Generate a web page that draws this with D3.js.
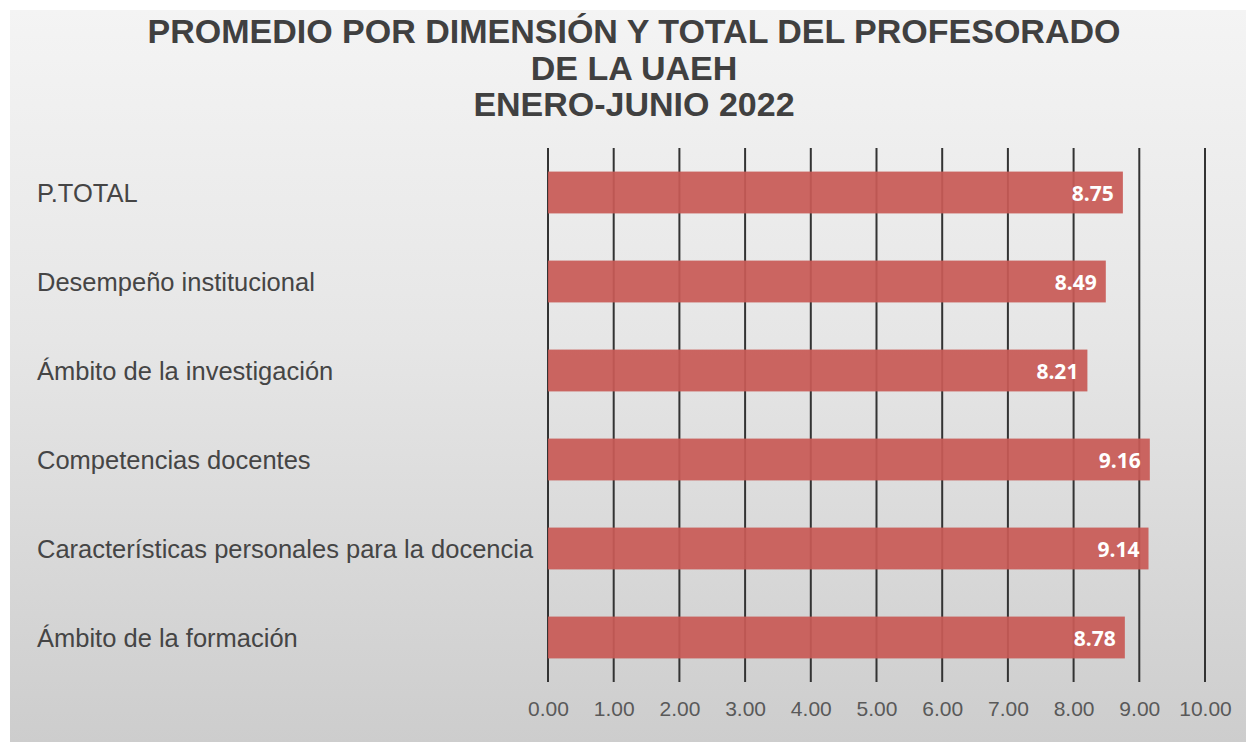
<!DOCTYPE html>
<html>
<head>
<meta charset="utf-8">
<script src="https://cdn.jsdelivr.net/npm/d3@7"></script>
<style>
  body { margin: 0; background: #fff; }
</style>
</head>
<body>
<div id="chart"></div>
<script>
'use strict'

// chart data
const categories = [
  'P.TOTAL',
  'Desempeño institucional',
  'Ámbito de la investigación',
  'Competencias docentes',
  'Características personales para la docencia',
  'Ámbito de la formación'
]
const values = [8.75, 8.49, 8.21, 9.16, 9.14, 8.78]
const tickValues = [0, 1, 2, 3, 4, 5, 6, 7, 8, 9, 10]
const titleLines = [
  'PROMEDIO POR DIMENSIÓN Y TOTAL DEL PROFESORADO',
  'DE LA UAEH',
  'ENERO-JUNIO 2022'
]

const width = 1246,
  height = 742

let svg = d3.select('#chart')
  .append('svg')
  .attr('width', width)
  .attr('height', height)

// background gradient
let grad = svg.append('defs').append('linearGradient')
  .attr('id', 'bg')
  .attr('x1', 0).attr('y1', 0).attr('x2', 0).attr('y2', 1)
grad.append('stop').attr('offset', '0%').attr('stop-color', '#f4f4f4')
grad.append('stop').attr('offset', '45%').attr('stop-color', '#e6e6e6')
grad.append('stop').attr('offset', '100%').attr('stop-color', '#cdcdcd')

svg.append('rect')
  .attr('x', 10).attr('y', 10)
  .attr('width', width - 10).attr('height', height - 10)
  .attr('fill', 'url(#bg)')

// title
svg.append('g')
  .selectAll('text')
  .data(titleLines)
  .enter()
  .append('text')
  .attr('x', 634)
  .attr('y', (d, i) => 43 + i * 36.5)
  .attr('text-anchor', 'middle')
  .style('font-family', 'Liberation Sans, Arial, sans-serif')
  .style('font-weight', 'bold')
  .style('font-size', '34px')
  .style('fill', '#404040')
  .text(d => d)

// scales
const xScale = d3.scaleLinear()
  .domain([0, 10])
  .range([548, 1205])

const yScale = d3.scaleBand()
  .domain(categories)
  .range([148, 682])
  .paddingInner(0.53)
  .paddingOuter(0.265)

// vertical grid lines
svg.append('g')
  .selectAll('line')
  .data(tickValues)
  .enter()
  .append('line')
  .attr('x1', d => xScale(d))
  .attr('x2', d => xScale(d))
  .attr('y1', 148)
  .attr('y2', 682)
  .attr('stroke', '#333')
  .attr('stroke-width', 2)

// bars
svg.append('g')
  .selectAll('rect')
  .data(values)
  .enter()
  .append('rect')
  .attr('x', xScale(0))
  .attr('y', (d, i) => yScale(categories[i]))
  .attr('width', d => xScale(d) - xScale(0))
  .attr('height', yScale.bandwidth())
  .attr('fill', '#c85a56')
  .attr('fill-opacity', 0.93)

// value labels
svg.append('g')
  .selectAll('text')
  .data(values)
  .enter()
  .append('text')
  .attr('x', d => xScale(d) - 9)
  .attr('y', (d, i) => yScale(categories[i]) + yScale.bandwidth() / 2 + 8)
  .attr('text-anchor', 'end')
  .style('font-family', 'Open Sans, sans-serif')
  .style('font-weight', 'bold')
  .style('font-size', '21px')
  .style('fill', '#fff')
  .text(d => d.toFixed(2))

// category labels
svg.append('g')
  .selectAll('text')
  .data(categories)
  .enter()
  .append('text')
  .attr('x', 37)
  .attr('y', d => yScale(d) + yScale.bandwidth() / 2 + 9)
  .style('font-family', 'Liberation Sans, Arial, sans-serif')
  .style('font-size', '25.5px')
  .style('fill', '#454545')
  .text(d => d)

// bottom axis labels
const axisBottom = d3.axisBottom(xScale)
  .tickValues(tickValues)
  .tickFormat(d3.format('.2f'))
  .tickSize(0)
  .tickPadding(0)

let ax = svg.append('g')
  .attr('transform', 'translate(0, 701)')
  .call(axisBottom)
ax.select('.domain').remove()
ax.selectAll('text')
  .style('font-family', 'Liberation Sans, Arial, sans-serif')
  .style('font-size', '21px')
  .style('fill', '#595959')
</script>
</body>
</html>
